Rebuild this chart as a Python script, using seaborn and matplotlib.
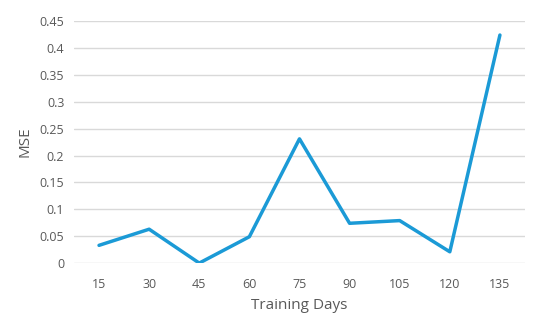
import matplotlib
matplotlib.use("Agg")
import matplotlib.pyplot as plt
import seaborn as sns
import pandas as pd

# 학습 일수별 MSE
training_days = ["15", "30", "45", "60", "75", "90", "105", "120", "135"]
mse_values = [0.033, 0.063, 0.0, 0.049, 0.231, 0.074, 0.079, 0.021, 0.424]
y_ticks = [0, 0.05, 0.1, 0.15, 0.2, 0.25, 0.3, 0.35, 0.4, 0.45]
y_tick_labels = ["0", "0.05", "0.1", "0.15", "0.2", "0.25", "0.3", "0.35", "0.4", "0.45"]

df = pd.DataFrame({"days": training_days, "mse": mse_values})

sns.set_theme(style="white")
plt.rcParams["font.family"] = ["Open Sans", "DejaVu Sans"]

fig = plt.figure(figsize=(5.5, 3.24), dpi=100)
ax = fig.add_axes([0.1345, 0.188, 0.82, 0.747])

sns.lineplot(data=df, x="days", y="mse", color="#1b9ad6", linewidth=2.5,
             sort=False, ax=ax)

ax.set_xlim(-0.5, len(training_days) - 0.5)
ax.set_ylim(0, 0.45)
ax.set_yticks(y_ticks)
ax.set_yticklabels(y_tick_labels)
ax.yaxis.grid(True, color="#d9d9d9", linewidth=1)
ax.set_axisbelow(True)
for s in ax.spines.values():
    s.set_visible(False)
ax.tick_params(axis="both", length=0, labelsize=9, colors="#595959", pad=7)
ax.tick_params(axis="x", pad=11)
ax.set_xlabel("Training Days", fontsize=11, color="#595959", labelpad=5)
ax.set_ylabel("MSE", fontsize=11, color="#595959", labelpad=5)

fig.savefig("out.png", dpi=100)
plt.close(fig)
